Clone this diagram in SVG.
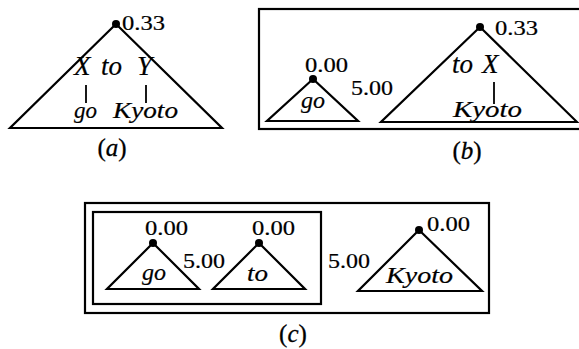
<svg xmlns="http://www.w3.org/2000/svg" width="579" height="349" viewBox="0 0 579 349">
<style>
.tri{fill:none;stroke:#000;stroke-width:2.2;stroke-linejoin:miter}
.box{fill:none;stroke:#000;stroke-width:2.2}
.ln{stroke:#000;stroke-width:1.8}
.num{font-family:"Liberation Serif","Times New Roman",serif;font-size:20px;fill:#000;stroke:#000;stroke-width:0.2}
.it{font-family:"Liberation Serif","Times New Roman",serif;font-style:italic;font-size:23px;fill:#000;stroke:#000;stroke-width:0.2}
.big{font-size:27px}
.cap{font-family:"Liberation Serif","Times New Roman",serif;font-size:25px;fill:#000;stroke:#000;stroke-width:0.3;text-anchor:middle}
</style>
<rect width="579" height="349" fill="#fff"/>

<g id="panel-a">
  <g id="a-tree">
    <polygon class="tri" points="116,24 10,128 222,128"/>
    <circle cx="116" cy="24" r="4"/>
    <text class="num" x="122" y="30" textLength="43" lengthAdjust="spacingAndGlyphs">0.33</text>
    <text class="it big" y="75"><tspan x="74">X</tspan><tspan x="101">to</tspan><tspan x="137">Y</tspan></text>
    <text class="it" x="74" y="118" textLength="23" lengthAdjust="spacingAndGlyphs">go</text>
    <text class="it" x="113" y="118" textLength="65" lengthAdjust="spacingAndGlyphs">Kyoto</text>
  </g>
  <text class="cap" x="112" y="156">(<tspan font-style="italic">a</tspan>)</text>
</g>

<g id="panel-b">
  <rect class="box" x="259" y="9" width="330" height="120"/>
  <g id="b-go">
    <polygon class="tri" points="313,79 267,121 358,121"/>
    <circle cx="313" cy="79" r="4"/>
    <text class="num" x="305" y="72" textLength="43" lengthAdjust="spacingAndGlyphs">0.00</text>
    <text class="it" x="301" y="108" textLength="24" lengthAdjust="spacingAndGlyphs">go</text>
  </g>
  <text class="num" x="351" y="95" textLength="42" lengthAdjust="spacingAndGlyphs">5.00</text>
  <g id="b-tree">
    <polygon class="tri" points="480,27 381,122 577,122"/>
    <circle cx="480" cy="27" r="4"/>
    <text class="num" x="495" y="35" textLength="43" lengthAdjust="spacingAndGlyphs">0.33</text>
    <text class="it big" y="73"><tspan x="452">to</tspan><tspan x="482">X</tspan></text>
    <text class="it" x="453" y="117" textLength="69" lengthAdjust="spacingAndGlyphs">Kyoto</text>
  </g>
  <text class="cap" x="467" y="159">(<tspan font-style="italic">b</tspan>)</text>
</g>

<g id="panel-c">
  <rect class="box" x="85" y="203" width="404" height="110"/>
  <rect class="box" x="93" y="212" width="228" height="92"/>
  <g id="c-go">
    <polygon class="tri" points="153,243 107,289 199,289"/>
    <circle cx="153" cy="243" r="4"/>
    <text class="num" x="145" y="235" textLength="43" lengthAdjust="spacingAndGlyphs">0.00</text>
    <text class="it" x="142" y="280" textLength="24" lengthAdjust="spacingAndGlyphs">go</text>
  </g>
  <text class="num" x="183" y="268" textLength="42" lengthAdjust="spacingAndGlyphs">5.00</text>
  <g id="c-to">
    <polygon class="tri" points="259,243 213,289 305,289"/>
    <circle cx="259" cy="243" r="4"/>
    <text class="num" x="252" y="235" textLength="43" lengthAdjust="spacingAndGlyphs">0.00</text>
    <text class="it" x="247" y="281" textLength="21" lengthAdjust="spacingAndGlyphs">to</text>
  </g>
  <text class="num" x="328" y="268" textLength="42" lengthAdjust="spacingAndGlyphs">5.00</text>
  <g id="c-kyoto">
    <polygon class="tri" points="419,230 358,291 482,291"/>
    <circle cx="419" cy="230" r="4"/>
    <text class="num" x="427" y="231" textLength="43" lengthAdjust="spacingAndGlyphs">0.00</text>
    <text class="it" x="386" y="283" textLength="67" lengthAdjust="spacingAndGlyphs">Kyoto</text>
  </g>
  <text class="cap" x="293" y="342">(<tspan font-style="italic">c</tspan>)</text>
</g>

<g id="connectors">
  <line class="ln" x1="86" y1="85" x2="86" y2="103"/>
  <line class="ln" x1="146" y1="85" x2="146" y2="103"/>
  <line class="ln" x1="494" y1="82" x2="494" y2="104"/>
</g>
</svg>
